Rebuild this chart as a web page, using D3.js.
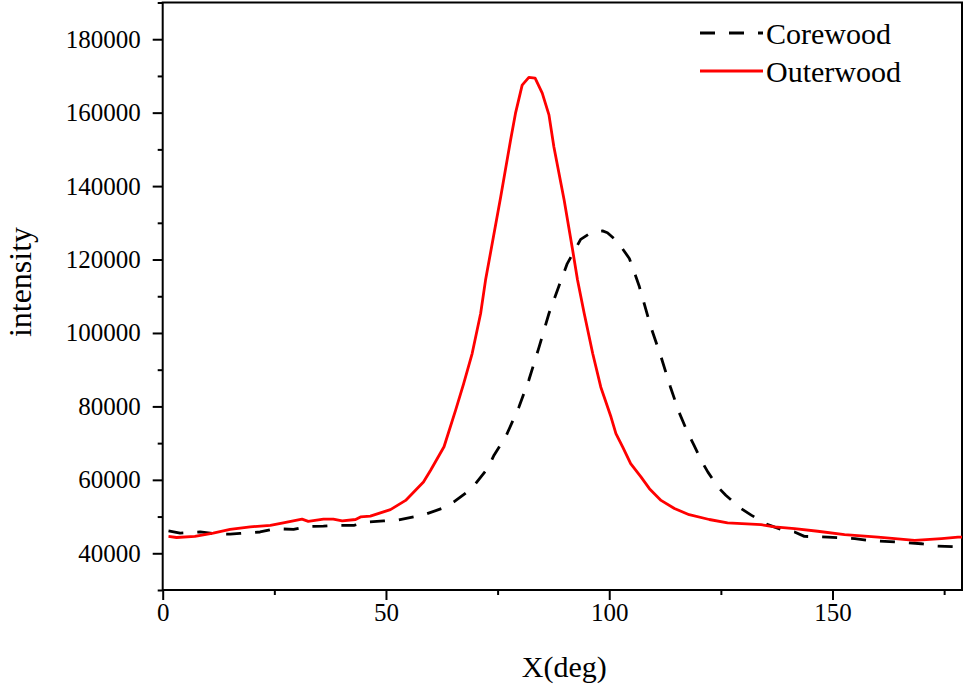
<!DOCTYPE html>
<html><head><meta charset="utf-8">
<script src="https://cdn.jsdelivr.net/npm/d3@7"></script>
<style>
body{margin:0;background:#fff}
svg{display:block}
text{font-family:"Liberation Serif","Times New Roman",serif;fill:#000}
</style>
</head><body>
<svg id="chart" width="967" height="688"></svg>
<script>
// ---- data ----
const corewoodDeg = [1.3,3.9,8.4,12,15.1,17.3,21.8,25.2,29.3,32.3,36.0,38.3,42.8,45.8,49.5,52.5,56.2,59.2,63.0,65.2,68.2,70.1,72.7,74.2,76.8,79.8,82.0,84.3,86.5,88.8,90.6,91.8,93.6,96.2,98.5,99.6,101.9,104.5,105.6,106.7,109.3,111.6,113.7,115.6,117.6,119.0,120.6,122.1,124.3,126.1,129.5,131.8,135.5,138.5,141.5,143.7,149.0,155.0,158.7,163.9,169.9,172.9,178.9];
const corewoodInt = [46080,45500,45800,45300,45200,45400,45800,46700,46500,47300,47400,47600,47600,48500,48800,49000,49900,50800,52400,54000,56700,59000,63000,66700,71700,79900,87200,96200,105300,113000,118900,121500,125500,127500,127800,127300,124800,120300,116600,112800,101700,93500,85300,78500,72800,69400,65300,62100,58100,55800,52200,50400,47800,46500,45800,44600,44400,44000,43400,43100,42600,42000,41700];

const outerwoodDeg = [1.3,3.1,7.2,11.3,15.1,19.6,24.1,27.0,31.2,32.6,36.0,38.2,40.2,43.2,44.3,46.5,51.0,54.4,58.4,60.0,63.0,65.6,67.4,69.3,71.2,72.3,75.7,77.9,79.0,80.5,82.0,83.4,85.0,86.5,87.6,89.9,91.8,92.9,94.4,96.3,98.1,100.4,101.5,103.0,104.8,107.1,109.0,111.6,114.6,117.9,122.4,126.5,134.0,137.0,141.5,146.7,152.7,160.2,168.4,174.4,178.1,179.0];
const outerwoodInt = [44600,44300,44600,45500,46500,47200,47600,48300,49300,48700,49300,49300,48800,49200,49900,50100,51900,54400,59400,62600,69000,79000,86200,94400,105300,114400,137100,152500,159800,167500,169600,169400,165300,159400,150700,136200,122600,114400,105300,94400,85300,77100,72600,69000,64400,60800,57600,54400,52200,50500,49200,48300,47800,47200,46700,46000,45100,44400,43500,44000,44400,44400];

const seriesNames = ["Corewood","Outerwood"];
const xMajorTicks = [0,50,100,150];
const xMinorTicks = [25,75,125,175];
const yMajorTicks = [40000,60000,80000,100000,120000,140000,160000,180000];
const yMinorTicks = [30000,50000,70000,90000,110000,130000,150000,170000,190000];
const xTitle = "X(deg)";
const yTitle = "intensity";

// ---- layout ----
const FONT = "'Liberation Serif','Times New Roman',serif";
const L = 162.7, R = 962, T = 2.5, B = 590;
const svg = d3.select("#chart");
const x = d3.scaleLinear().domain([0,179]).range([L,R]);
const y = d3.scaleLinear().domain([30000,190000]).range([B,T]);

// axes
const gx = svg.append("g").attr("transform",`translate(0,${B})`)
  .call(d3.axisBottom(x).tickValues(xMajorTicks).tickSize(10).tickPadding(3).tickFormat(d3.format("d")));
const gxm = svg.append("g").attr("transform",`translate(0,${B})`)
  .call(d3.axisBottom(x).tickValues(xMinorTicks).tickSize(5).tickFormat(""));
const gy = svg.append("g").attr("transform",`translate(${L},0)`)
  .call(d3.axisLeft(y).tickValues(yMajorTicks).tickSize(10).tickPadding(12).tickFormat(d3.format("d")));
const gym = svg.append("g").attr("transform",`translate(${L},0)`)
  .call(d3.axisLeft(y).tickValues(yMinorTicks).tickSize(5).tickFormat(""));
[gx,gxm,gy,gym].forEach(g=>{
  g.attr("font-family",FONT).attr("font-size",25);
  g.select(".domain").remove();
  g.selectAll(".tick line").attr("stroke","#000").attr("stroke-width",2);
  g.selectAll(".tick text").style("font-family",FONT).style("font-size","25px").attr("fill","#000");
});

// frame
svg.append("rect").attr("x",L).attr("y",T).attr("width",R-L).attr("height",B-T)
  .attr("fill","none").attr("stroke","#000").attr("stroke-width",2);

// lines
const line = d3.line().x(d=>x(d[0])).y(d=>y(d[1]));
const core = corewoodDeg.map((d,i)=>[d,corewoodInt[i]]);
const outer = outerwoodDeg.map((d,i)=>[d,outerwoodInt[i]]);
svg.append("path").datum(core).attr("d",line).attr("fill","none")
  .attr("stroke","#000").attr("stroke-width",2.8).attr("stroke-dasharray","15,14").attr("stroke-linejoin","round");
svg.append("path").datum(outer).attr("d",line).attr("fill","none")
  .attr("stroke","#ff0000").attr("stroke-width",2.8).attr("stroke-linejoin","round");

// titles
svg.append("text").attr("x",(L+R)/2+2).attr("y",677).attr("text-anchor","middle")
  .style("font-family",FONT).attr("font-size",30).text(xTitle);
svg.append("text").attr("transform","translate(31,282) rotate(-90)").attr("text-anchor","middle")
  .style("font-family",FONT).attr("font-size",32).text(yTitle);

// legend
const lg = svg.append("g").style("font-family",FONT);
lg.append("line").attr("x1",700).attr("x2",763).attr("y1",33).attr("y2",33)
  .attr("stroke","#000").attr("stroke-width",2.8).attr("stroke-dasharray","15,14");
lg.append("text").attr("x",766).attr("y",44).attr("font-size",30).text(seriesNames[0]);
lg.append("line").attr("x1",700).attr("x2",763).attr("y1",71).attr("y2",71)
  .attr("stroke","#ff0000").attr("stroke-width",2.8);
lg.append("text").attr("x",766).attr("y",82).attr("font-size",30).text(seriesNames[1]);
</script>
</body></html>
